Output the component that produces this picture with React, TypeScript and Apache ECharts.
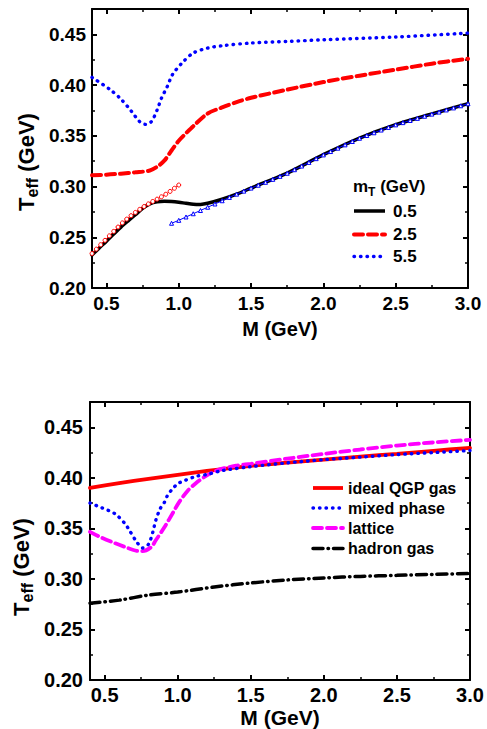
import React, { useEffect, useRef } from "react";
import * as echarts from "echarts";

// ---------- axes ----------
const X_MIN = 0.4;
const X_MAX = 3.0;
const Y_MIN = 0.2;
const Y_MAX = 0.475;
const X_MAJOR = [0.5, 1.0, 1.5, 2.0, 2.5, 3.0];
const X_MINOR = [0.75, 1.25, 1.75, 2.25, 2.75];
const Y_MAJOR = [0.2, 0.25, 0.3, 0.35, 0.4, 0.45];
const Y_MINOR = [0.225, 0.275, 0.325, 0.375, 0.425];

// ---------- top panel: m_T curves ----------
const M_05 = [0.4, 0.45, 0.5, 0.55, 0.6, 0.65, 0.7, 0.75, 0.8, 0.85, 0.9, 0.95, 1.0, 1.05, 1.1, 1.15, 1.2, 1.3, 1.4, 1.5, 1.75, 2.0, 2.25, 2.5, 2.75, 3.0];
const T_05 = [0.2325, 0.2395, 0.2462, 0.2532, 0.26, 0.2662, 0.2722, 0.2785, 0.283, 0.285, 0.2855, 0.2852, 0.2845, 0.2835, 0.2826, 0.2824, 0.2835, 0.2875, 0.2925, 0.2985, 0.3133, 0.3314, 0.3478, 0.361, 0.3715, 0.3817];

const M_25 = [0.4, 0.5, 0.6, 0.7, 0.8, 0.85, 0.9, 0.95, 1.0, 1.05, 1.1, 1.2, 1.3, 1.4, 1.5, 1.75, 2.0, 2.25, 2.5, 2.75, 3.0];
const T_25 = [0.3112, 0.3117, 0.3127, 0.314, 0.3158, 0.3195, 0.3255, 0.3355, 0.3452, 0.3525, 0.3595, 0.372, 0.378, 0.3832, 0.3875, 0.3955, 0.403, 0.4093, 0.4152, 0.4211, 0.426];

const M_55 = [0.4, 0.52, 0.6, 0.67, 0.73, 0.77, 0.81, 0.85, 0.88, 0.92, 0.955, 1.02, 1.1, 1.2, 1.3, 1.5, 1.75, 2.0, 2.5, 3.0];
const T_55 = [0.4076, 0.3961, 0.3862, 0.3747, 0.3639, 0.3613, 0.3639, 0.3754, 0.387, 0.3984, 0.41, 0.4214, 0.4316, 0.4365, 0.4388, 0.4415, 0.443, 0.4447, 0.4474, 0.4513];

// thin fits with open markers
const M_FIT_LOW = [0.4, 0.43, 0.46, 0.49, 0.52, 0.55, 0.58, 0.61, 0.64, 0.67, 0.7, 0.73, 0.76, 0.79, 0.82, 0.85, 0.88, 0.91, 0.94, 0.97, 1.0];
const T_FIT_LOW = [0.234, 0.2383, 0.2427, 0.247, 0.2514, 0.2558, 0.2601, 0.2642, 0.2679, 0.2713, 0.2745, 0.2775, 0.2803, 0.2829, 0.2853, 0.2876, 0.2899, 0.2924, 0.2952, 0.2983, 0.3015];

const M_FIT_HIGH = [0.95, 1.0, 1.05, 1.1, 1.15, 1.2, 1.25, 1.3, 1.35, 1.4, 1.45, 1.5, 1.55, 1.6, 1.65, 1.7, 1.75, 1.8, 1.85, 1.9, 1.95, 2.0, 2.05, 2.1, 2.15, 2.2, 2.25, 2.3, 2.35, 2.4, 2.45, 2.5, 2.55, 2.6, 2.65, 2.7, 2.75, 2.8, 2.85, 2.9, 2.95, 3.0];
const T_FIT_HIGH = [0.2638, 0.2667, 0.27, 0.2732, 0.2764, 0.2796, 0.2828, 0.286, 0.2893, 0.2925, 0.2955, 0.2985, 0.3013, 0.3042, 0.3071, 0.3101, 0.3131, 0.3166, 0.3202, 0.3238, 0.3275, 0.3312, 0.3345, 0.3378, 0.3411, 0.3444, 0.3476, 0.3503, 0.353, 0.3557, 0.3583, 0.3608, 0.363, 0.3651, 0.3672, 0.3693, 0.3714, 0.3734, 0.3755, 0.3775, 0.3796, 0.3816];

// ---------- bottom panel: equations of state ----------
const M_QGP = [0.4, 0.6, 0.8, 1.0, 1.2, 1.5, 1.75, 2.0, 2.25, 2.5, 2.75, 3.0];
const T_QGP = [0.39, 0.3948, 0.399, 0.403, 0.4068, 0.4118, 0.415, 0.418, 0.421, 0.4237, 0.4267, 0.4297];

const M_MIX = [0.4, 0.48, 0.57, 0.64, 0.67, 0.72, 0.76, 0.8, 0.83, 0.85, 0.88, 0.91, 0.93, 0.96, 1.0, 1.05, 1.13, 1.2, 1.3, 1.5, 1.75, 2.0, 2.25, 2.5, 2.75, 3.0];
const T_MIX = [0.375, 0.3704, 0.3645, 0.3546, 0.348, 0.3365, 0.3306, 0.3342, 0.3464, 0.3579, 0.3694, 0.376, 0.3826, 0.3882, 0.3941, 0.3974, 0.4016, 0.4033, 0.407, 0.411, 0.4148, 0.418, 0.4205, 0.423, 0.425, 0.427];

const M_LAT = [0.4, 0.47, 0.55, 0.65, 0.72, 0.76, 0.82, 0.85, 0.91, 0.97, 1.01, 1.07, 1.12, 1.18, 1.27, 1.4, 1.5, 1.75, 2.0, 2.25, 2.5, 2.75, 3.0];
const T_LAT = [0.3466, 0.3414, 0.3365, 0.331, 0.3278, 0.3275, 0.3316, 0.3382, 0.3513, 0.3661, 0.376, 0.3875, 0.3941, 0.4006, 0.4075, 0.412, 0.4138, 0.419, 0.4237, 0.428, 0.4319, 0.435, 0.4375];

const M_HAD = [0.4, 0.6, 0.8, 1.0, 1.25, 1.5, 1.75, 2.0, 2.25, 2.5, 2.75, 3.0];
const T_HAD = [0.276, 0.279, 0.284, 0.287, 0.292, 0.296, 0.299, 0.301, 0.3025, 0.3035, 0.3045, 0.3053];

const TOP_LEGEND = ["0.5", "2.5", "5.5"];
const BOTTOM_LEGEND = ["ideal QGP gas", "mixed phase", "lattice", "hadron gas"];

const FONT = "Liberation Sans, Arial, sans-serif";
const zip = (xs: number[], ys: number[]) => xs.map((x, i) => [x, ys[i]]);

const DOTTED = [0.5, 6];
const STYLE: Record<string, { color: string; width: number; dash: any }> = {
  "0.5": { color: "#000000", width: 3.5, dash: "solid" },
  "2.5": { color: "#ff0000", width: 4, dash: [9, 5] },
  "5.5": { color: "#0000ff", width: 3.4, dash: DOTTED },
  "ideal QGP gas": { color: "#ff0000", width: 3.8, dash: "solid" },
  "mixed phase": { color: "#0000ff", width: 3.4, dash: DOTTED },
  lattice: { color: "#ff00ff", width: 3.8, dash: [9, 5] },
  "hadron gas": { color: "#000000", width: 3.5, dash: [10, 5, 0.5, 5] },
};

function xAxes(grid: number, fs: number, nameFs: number, nameGap: number, margin: number) {
  const base = { type: "value", gridIndex: grid, min: X_MIN, max: X_MAX, splitLine: { show: false } };
  const line = { show: true, onZero: false, lineStyle: { color: "#000", width: 2 } };
  const major = { show: true, inside: true, length: 5, customValues: X_MAJOR, lineStyle: { color: "#000", width: 2 } };
  const minor = { show: true, inside: true, length: 3, customValues: X_MINOR, lineStyle: { color: "#000", width: 1.5 } };
  return [
    {
      ...base,
      position: "bottom",
      axisLine: line,
      axisTick: major,
      axisLabel: {
        customValues: X_MAJOR,
        formatter: (v: number) => v.toFixed(1),
        margin,
        fontSize: fs,
        fontWeight: "bold",
        color: "#000",
        fontFamily: FONT,
      },
      name: "M (GeV)",
      nameLocation: "middle",
      nameGap,
      nameTextStyle: { fontSize: nameFs, fontWeight: "bold", color: "#000", fontFamily: FONT },
    },
    { ...base, position: "top", axisLine: line, axisTick: major, axisLabel: { show: false } },
    { ...base, position: "bottom", axisLine: { show: false, onZero: false }, axisTick: minor, axisLabel: { show: false } },
    { ...base, position: "top", axisLine: { show: false, onZero: false }, axisTick: minor, axisLabel: { show: false } },
  ];
}

function yAxes(grid: number, fs: number, margin: number) {
  const base = { type: "value", gridIndex: grid, min: Y_MIN, max: Y_MAX, splitLine: { show: false } };
  const line = { show: true, onZero: false, lineStyle: { color: "#000", width: 2 } };
  const major = { show: true, inside: true, length: 5, customValues: Y_MAJOR, lineStyle: { color: "#000", width: 2 } };
  const minor = { show: true, inside: true, length: 3, customValues: Y_MINOR, lineStyle: { color: "#000", width: 1.5 } };
  return [
    {
      ...base,
      position: "left",
      axisLine: line,
      axisTick: major,
      axisLabel: {
        customValues: Y_MAJOR,
        formatter: (v: number) => v.toFixed(2),
        margin,
        fontSize: fs,
        fontWeight: "bold",
        color: "#000",
        fontFamily: FONT,
      },
    },
    { ...base, position: "right", axisLine: line, axisTick: major, axisLabel: { show: false } },
    { ...base, position: "left", axisLine: { show: false, onZero: false }, axisTick: minor, axisLabel: { show: false } },
    { ...base, position: "right", axisLine: { show: false, onZero: false }, axisTick: minor, axisLabel: { show: false } },
  ];
}

function lineSeries(name: string, xs: number[], ys: number[], grid: number, z: number, smooth = 0.3) {
  const s = STYLE[name];
  return {
    name,
    type: "line",
    xAxisIndex: grid * 4,
    yAxisIndex: grid * 4,
    data: zip(xs, ys),
    showSymbol: false,
    symbol: "none",
    smooth,
    z,
    lineStyle: { color: s.color, width: s.width, type: s.dash, cap: "round" },
    itemStyle: { color: s.color },
  };
}

function markerSeries(name: string, xs: number[], ys: number[], color: string, symbol: string, z: number) {
  return {
    name,
    type: "line",
    xAxisIndex: 0,
    yAxisIndex: 0,
    data: zip(xs, ys),
    symbol,
    symbolSize: 4,
    showSymbol: true,
    z,
    lineStyle: { color, width: 1 },
    itemStyle: { color: "#fff", borderColor: color, borderWidth: 1 },
  };
}

const subRich = (big: number, small: number) => ({
  a: { fontSize: big, fontWeight: "bold", fontFamily: FONT, color: "#000", lineHeight: big + 6 },
  b: { fontSize: small, fontWeight: "bold", fontFamily: FONT, color: "#000", verticalAlign: "bottom", lineHeight: small + 2 },
});

function legendItems(names: string[], x0: number, x1: number, textX: number, rows: number[], fs: number) {
  const out: any[] = [];
  names.forEach((n, i) => {
    const s = STYLE[n];
    const dash = s.dash === "solid" ? null : s.dash;
    out.push({
      type: "line",
      shape: { x1: x0, y1: rows[i], x2: x1, y2: rows[i] },
      style: { stroke: s.color, lineWidth: s.width, lineDash: dash, lineCap: dash ? "round" : "butt" },
      z: 10,
    });
    out.push({
      type: "text",
      x: textX,
      y: rows[i],
      style: { text: n, fontSize: fs, fontWeight: "bold", fontFamily: FONT, fill: "#000", align: "left", verticalAlign: "middle" },
      z: 10,
    });
  });
  return out;
}

export default function App() {
  const ref = useRef<HTMLDivElement>(null);
  useEffect(() => {
    if (!ref.current) return;
    const chart = echarts.init(ref.current, undefined, { renderer: "svg" });
    chart.setOption({
      animation: false,
      backgroundColor: "#fff",
      grid: [
        { left: 92, top: 9, width: 376, height: 279 },
        { left: 90, top: 402, width: 380, height: 278 },
      ],
      xAxis: [...xAxes(0, 19, 20, 31, 6), ...xAxes(1, 20, 21, 27, 5)],
      yAxis: [...yAxes(0, 19, 6), ...yAxes(1, 20, 7)],
      graphic: [
        {
          type: "text",
          x: 353,
          y: 186,
          style: { text: "{a|m}{b|T}{a| (GeV)}", rich: subRich(17, 12), align: "left", verticalAlign: "middle" },
        },
        ...legendItems(TOP_LEGEND, 354, 385, 393, [211, 234.5, 256.5], 17),
        ...legendItems(BOTTOM_LEGEND, 313, 343, 348, [488, 508, 528, 548.5], 16),
        {
          type: "text",
          x: 26,
          y: 162,
          rotation: Math.PI / 2,
          style: { text: "{a|T}{b|eff}{a| (GeV)}", rich: subRich(22, 16), align: "center", verticalAlign: "middle" },
        },
        {
          type: "text",
          x: 21,
          y: 567,
          rotation: Math.PI / 2,
          style: { text: "{a|T}{b|eff}{a| (GeV)}", rich: subRich(22, 16), align: "center", verticalAlign: "middle" },
        },
      ],
      series: [
        lineSeries("0.5", M_05, T_05, 0, 2),
        lineSeries("2.5", M_25, T_25, 0, 2),
        lineSeries("5.5", M_55, T_55, 0, 2),
        markerSeries("fit low M", M_FIT_LOW, T_FIT_LOW, "#ff0000", "circle", 3),
        markerSeries("fit high M", M_FIT_HIGH, T_FIT_HIGH, "#0000ff", "triangle", 3),
        lineSeries("ideal QGP gas", M_QGP, T_QGP, 1, 2),
        lineSeries("mixed phase", M_MIX, T_MIX, 1, 3),
        lineSeries("lattice", M_LAT, T_LAT, 1, 2),
        lineSeries("hadron gas", M_HAD, T_HAD, 1, 2),
      ],
    });
    return () => chart.dispose();
  }, []);
  return <div ref={ref} style={{ position: "fixed", left: 0, top: 0, width: 487, height: 729 }} />;
}
